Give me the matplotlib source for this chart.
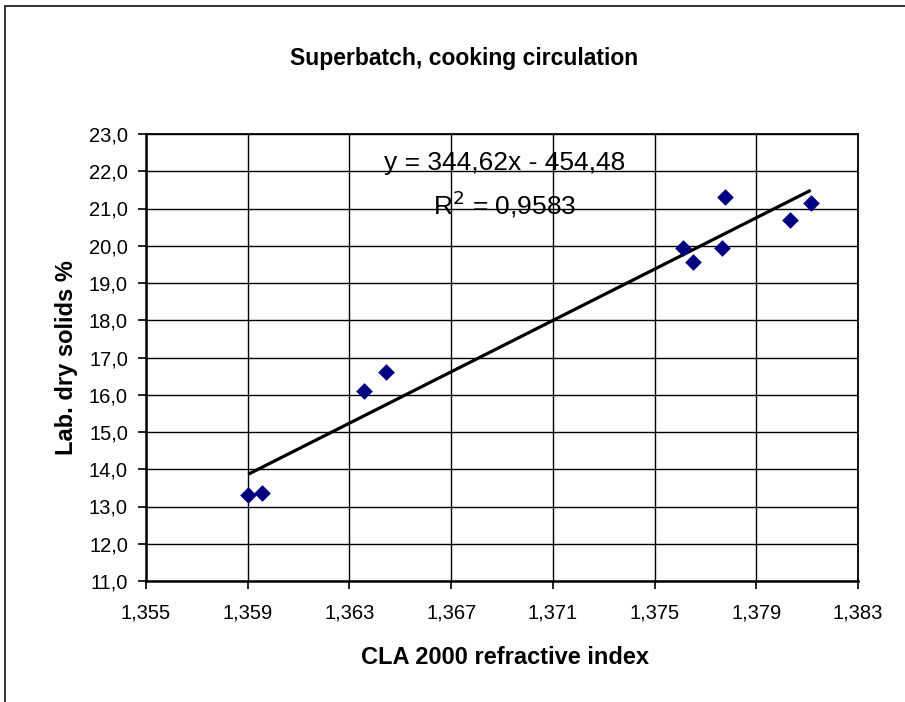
import matplotlib
matplotlib.use("Agg")
import matplotlib.pyplot as plt
from matplotlib.patches import Rectangle
import numpy as np

plt.rcParams["font.family"] = ["Liberation Sans", "DejaVu Sans"]

# ----------------------------------------------------------------------
# Data
# ----------------------------------------------------------------------
refractive_index = [1.35902, 1.35955, 1.36359, 1.36444, 1.37613,
                    1.37650, 1.37777, 1.37766, 1.38033, 1.38114]
dry_solids = [13.31, 13.35, 16.11, 16.60, 19.93,
              19.57, 21.32, 19.93, 20.69, 21.14]

# Excel trendline as printed on the chart
SLOPE = 344.62
INTERCEPT = -454.48
R_SQUARED = 0.9583

x_ticks = [1.355, 1.359, 1.363, 1.367, 1.371, 1.375, 1.379, 1.383]
y_ticks = [11, 12, 13, 14, 15, 16, 17, 18, 19, 20, 21, 22, 23]


def comma(v, decimals):
    return f"{v:.{decimals}f}".replace(".", ",")


W, H = 905, 702
fig = plt.figure(figsize=(W / 100, H / 100), dpi=100)
ax = fig.add_axes([146 / W, 1 - 581 / H, (858 - 146) / W, (581 - 134) / H])

# outer chart frame (runs off the right / bottom edges like the original)
fig.patches.append(Rectangle((5 / W, -0.05), 1.2, 1 - 6 / H + 0.05,
                             transform=fig.transFigure, fill=False,
                             edgecolor="#222222", linewidth=1.3))

ax.scatter(refractive_index, dry_solids, marker="D", s=72,
           color="#000080", zorder=4, linewidths=0)

x_line = np.array([min(refractive_index), max(refractive_index)])
ax.plot(x_line, SLOPE * x_line + INTERCEPT, color="black",
        linewidth=2.3, zorder=3, solid_capstyle="butt")

ax.text(1.36912, 22.22, f"y = {comma(SLOPE, 2)}x - {comma(-INTERCEPT, 2)}",
        ha="center", va="center", fontsize=19, zorder=5)
ax.text(1.36912, 21.12, f"R$^2$ = {comma(R_SQUARED, 4)}",
        ha="center", va="center", fontsize=19, zorder=5)

ax.set_xlim(x_ticks[0], x_ticks[-1])
ax.set_ylim(y_ticks[0], y_ticks[-1])
ax.set_xticks(x_ticks)
ax.set_yticks(y_ticks)
ax.set_xticklabels([comma(v, 3) for v in x_ticks])
ax.set_yticklabels([comma(v, 1) for v in y_ticks])
ax.tick_params(direction="out", length=6, width=1.2, labelsize=14.5,
               colors="black")
ax.tick_params(axis="x", pad=10)
ax.tick_params(axis="y", pad=7)
ax.grid(True, color="black", linewidth=1.0)
ax.set_axisbelow(True)
for side in ["left", "bottom", "right", "top"]:
    ax.spines[side].set_linewidth(1.8 if side in ("left", "bottom") else 1.3)
    ax.spines[side].set_color("black")

fig.text(505 / W, 1 - 658 / H, "CLA 2000 refractive index",
         ha="center", va="center", fontsize=17, fontweight="bold")
fig.text(66 / W, 1 - 358 / H, "Lab. dry solids %", rotation=90,
         ha="center", va="center", fontsize=17, fontweight="bold")
fig.text(464 / W, 1 - 58 / H, "Superbatch, cooking circulation",
         ha="center", va="center", fontsize=16.5, fontweight="bold")

fig.savefig("out.png", dpi=100)
